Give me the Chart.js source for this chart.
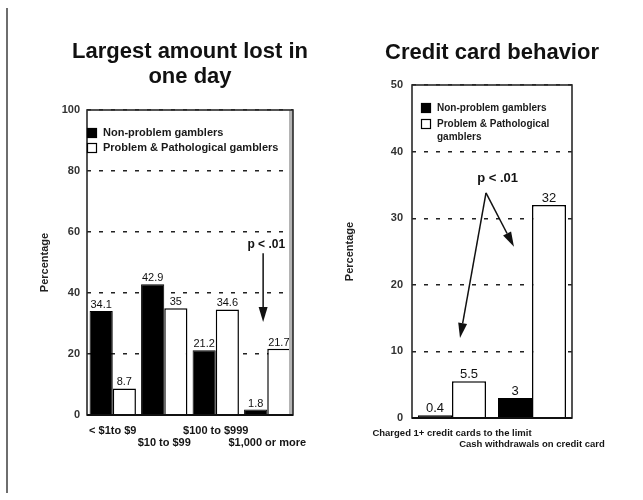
<!DOCTYPE html>
<html>
<head>
<meta charset="utf-8">
<script src="https://cdn.jsdelivr.net/npm/chart.js@4.4.0/dist/chart.umd.min.js"></script>
<style>
  html, body { margin: 0; padding: 0; background: #fff; }
  #wrap { position: relative; width: 643px; height: 500px; overflow: hidden; background: #fff; }
  #rule { position: absolute; left: 6px; top: 8px; width: 2px; height: 485px; background: #6e6e6e; }
  #lossChart { position: absolute; left: 0; top: 0; }
  #creditChart { position: absolute; left: 320px; top: 0; }
</style>
</head>
<body>
<div id="wrap">
  <div id="rule"></div>
  <canvas id="lossChart" width="320" height="500"></canvas>
  <canvas id="creditChart" width="323" height="500"></canvas>
</div>
<script>
const FONT = '"Liberation Sans", Arial, Helvetica, sans-serif';
Chart.defaults.font.family = FONT;

// Largest amount lost in one day (labels alternate between two rows)
const lossCategories = [['< $1to $9', ''], ['', '$10 to $99'], ['$100 to $999', ''], ['', '$1,000 or more']];
const lossNonProblem = [34.1, 42.9, 21.2, 1.8];
const lossProblem = [8.7, 35, 34.6, 21.7];
const lossTicks = [0, 20, 40, 60, 80, 100];

// Credit card behavior
const creditCategories = [['Charged 1+ credit cards to the limit', ''], ['', 'Cash withdrawals on credit card']];
const creditNonProblem = [0.4, 3];
const creditProblem = [5.5, 32];
const creditTicks = [0, 10, 20, 30, 40, 50];

const seriesNames = ['Non-problem gamblers', 'Problem & Pathological gamblers'];

// Heading, value labels, plot frame, inset legend and significance arrows
const decor = {
  id: 'decor',
  afterDatasetsDraw(chart, args, o) {
    const ctx = chart.ctx;
    const a = chart.chartArea;
    const xs = chart.scales.x, ys = chart.scales.y;
    ctx.save();

    // heading, centred over the plot
    ctx.font = 'bold 22px ' + FONT;
    ctx.fillStyle = '#111';
    ctx.textAlign = 'center';
    ctx.textBaseline = 'alphabetic';
    o.heading.forEach((t, k) => ctx.fillText(t, (a.left + a.right) / 2, o.headingBaseline + k * 25));

    // frame
    if (o.rightBand) {
      ctx.fillStyle = '#b4b4b4';
      ctx.fillRect(a.right - 4, a.top, 4, a.bottom - a.top);
    }
    ctx.strokeStyle = '#2a2a2a';
    ctx.lineWidth = 1.6;
    ctx.strokeRect(a.left, a.top, a.right - a.left, a.bottom - a.top);
    ctx.lineWidth = 2;
    ctx.strokeStyle = '#111';
    ctx.beginPath(); ctx.moveTo(a.left, a.bottom); ctx.lineTo(a.right, a.bottom); ctx.stroke();

    // values above bars
    ctx.font = o.valueFont;
    ctx.fillStyle = '#111';
    ctx.textAlign = 'center';
    ctx.textBaseline = 'alphabetic';
    chart.data.datasets.forEach((ds, di) => {
      chart.getDatasetMeta(di).data.forEach((el, i) => {
        ctx.fillText(String(ds.data[i]), el.x, el.y - 3);
      });
    });

    // legend
    const lg = o.legend;
    ctx.font = lg.font;
    ctx.textAlign = 'left';
    ctx.textBaseline = 'middle';
    let ly = a.top + lg.top;
    chart.data.datasets.forEach((ds) => {
      const sx = a.left + lg.left;
      ctx.fillStyle = ds.backgroundColor;
      ctx.fillRect(sx, ly, lg.box, lg.box);
      ctx.strokeStyle = '#000';
      ctx.lineWidth = 1.2;
      ctx.strokeRect(sx + 0.5, ly + 0.5, lg.box - 1, lg.box - 1);
      ctx.fillStyle = '#1a1a1a';
      // wrap words to the available width
      const words = ds.label.split(' ');
      const lines = [];
      let cur = '';
      words.forEach(w => {
        const t = cur ? cur + ' ' + w : w;
        if (cur && ctx.measureText(t).width > lg.maxWidth) { lines.push(cur); cur = w; } else { cur = t; }
      });
      lines.push(cur);
      lines.forEach((ln, k) => ctx.fillText(ln, sx + lg.box + lg.gap, ly + lg.box / 2 + k * lg.lineHeight));
      ly += lg.step + (lines.length - 1) * lg.lineHeight;
    });

    // significance note and arrows
    const px = (p) => [xs.getPixelForValue(p[0]), ys.getPixelForValue(p[1])];
    const sig = o.sig;
    ctx.font = sig.font;
    ctx.fillStyle = '#111';
    ctx.textAlign = 'center';
    ctx.textBaseline = 'middle';
    const tp = px(sig.at);
    ctx.fillText(sig.text, tp[0], tp[1]);
    ctx.strokeStyle = '#111';
    ctx.fillStyle = '#111';
    ctx.lineWidth = 1.5;
    sig.arrows.forEach(ar => {
      const [x0, y0] = px(ar.from);
      const [x1, y1] = px(ar.to);
      const ang = Math.atan2(y1 - y0, x1 - x0);
      const hl = 15, hw = 4.5;
      const bx = x1 - hl * Math.cos(ang), by = y1 - hl * Math.sin(ang);
      ctx.beginPath(); ctx.moveTo(x0, y0); ctx.lineTo(bx, by); ctx.stroke();
      ctx.beginPath();
      ctx.moveTo(x1, y1);
      ctx.lineTo(bx + hw * Math.sin(ang), by - hw * Math.cos(ang));
      ctx.lineTo(bx - hw * Math.sin(ang), by + hw * Math.cos(ang));
      ctx.closePath();
      ctx.fill();
    });
    ctx.restore();
  }
};

function makeChart(id, cfg) {
  const ticks = cfg.ticks;
  return new Chart(document.getElementById(id), {
    type: 'bar',
    data: {
      labels: cfg.labels,
      datasets: [
        { label: seriesNames[0], data: cfg.a, backgroundColor: '#000', borderColor: '#000', borderWidth: 1 },
        { label: seriesNames[1], data: cfg.b, backgroundColor: '#fff', borderColor: '#000', borderWidth: 1.5 }
      ]
    },
    options: {
      responsive: false,
      animation: false,
      events: [],
      layout: { padding: { left: 0, right: cfg.padRight, top: cfg.padTop, bottom: 0 } },
      datasets: { bar: { categoryPercentage: cfg.catPct, barPercentage: 1 } },
      plugins: {
        legend: { display: false },
        tooltip: { enabled: false },
        title: { display: false },
        decor: cfg.decor
      },
      scales: {
        x: {
          grid: { display: false, drawTicks: false },
          border: { display: false },
          ticks: {
            color: '#151515', autoSkip: false, maxRotation: 0, minRotation: 0,
            padding: cfg.xPad,
            font: { size: cfg.xFont, weight: 'bold', lineHeight: cfg.xLine / cfg.xFont }
          },
          afterFit: s => { s.height = cfg.xHeight; }
        },
        y: {
          min: ticks[0], max: ticks[ticks.length - 1],
          afterBuildTicks: s => { s.ticks = ticks.map(v => ({ value: v })); },
          grid: { color: '#222', lineWidth: 1.4, drawTicks: false },
          border: { display: false, dash: [4, 8] },
          ticks: { color: '#333', padding: cfg.yPad, font: { size: 11, weight: 'bold' } },
          title: {
            display: true, text: 'Percentage', color: '#222',
            font: { size: 11, weight: 'bold', lineHeight: 1.2 },
            padding: { top: cfg.yTitlePad, bottom: 0 }
          },
          afterFit: s => { s.width = cfg.yWidth; }
        }
      }
    },
    plugins: [decor]
  });
}

makeChart('lossChart', {
  labels: lossCategories, a: lossNonProblem, b: lossProblem, ticks: lossTicks,
  padTop: 110, padRight: 27, yWidth: 87, xHeight: 85, catPct: 0.9,
  xFont: 11, xLine: 12, xPad: 10, yPad: 7, yTitlePad: 38,
  decor: {
    heading: ['Largest amount lost in', 'one day'], headingBaseline: 58,
    rightBand: true,
    valueFont: '11px ' + FONT,
    legend: { font: 'bold 11px ' + FONT, left: 0, top: 18, box: 10, gap: 6, step: 15, lineHeight: 13, maxWidth: 200 },
    sig: {
      text: 'p < .01', font: 'bold 12px ' + FONT, at: [2.98, 55.7],
      arrows: [{ from: [2.92, 53], to: [2.92, 30.5] }]
    }
  }
});

makeChart('creditChart', {
  labels: creditCategories, a: creditNonProblem, b: creditProblem, ticks: creditTicks,
  padTop: 85, padRight: 71, yWidth: 92, xHeight: 82, catPct: 0.85,
  xFont: 9.5, xLine: 11, xPad: 9.5, yPad: 9, yTitlePad: 23,
  decor: {
    heading: ['Credit card behavior'], headingBaseline: 59,
    rightBand: false,
    valueFont: '13px ' + FONT,
    legend: { font: 'bold 10px ' + FONT, left: 9, top: 18, box: 10, gap: 6, step: 16, lineHeight: 13, maxWidth: 118 },
    sig: {
      text: 'p < .01', font: 'bold 13px ' + FONT, at: [0.57, 35.9],
      arrows: [{ from: [0.425, 33.8], to: [0.1, 12.0] }, { from: [0.425, 33.8], to: [0.775, 25.7] }]
    }
  }
});
</script>
</body>
</html>
